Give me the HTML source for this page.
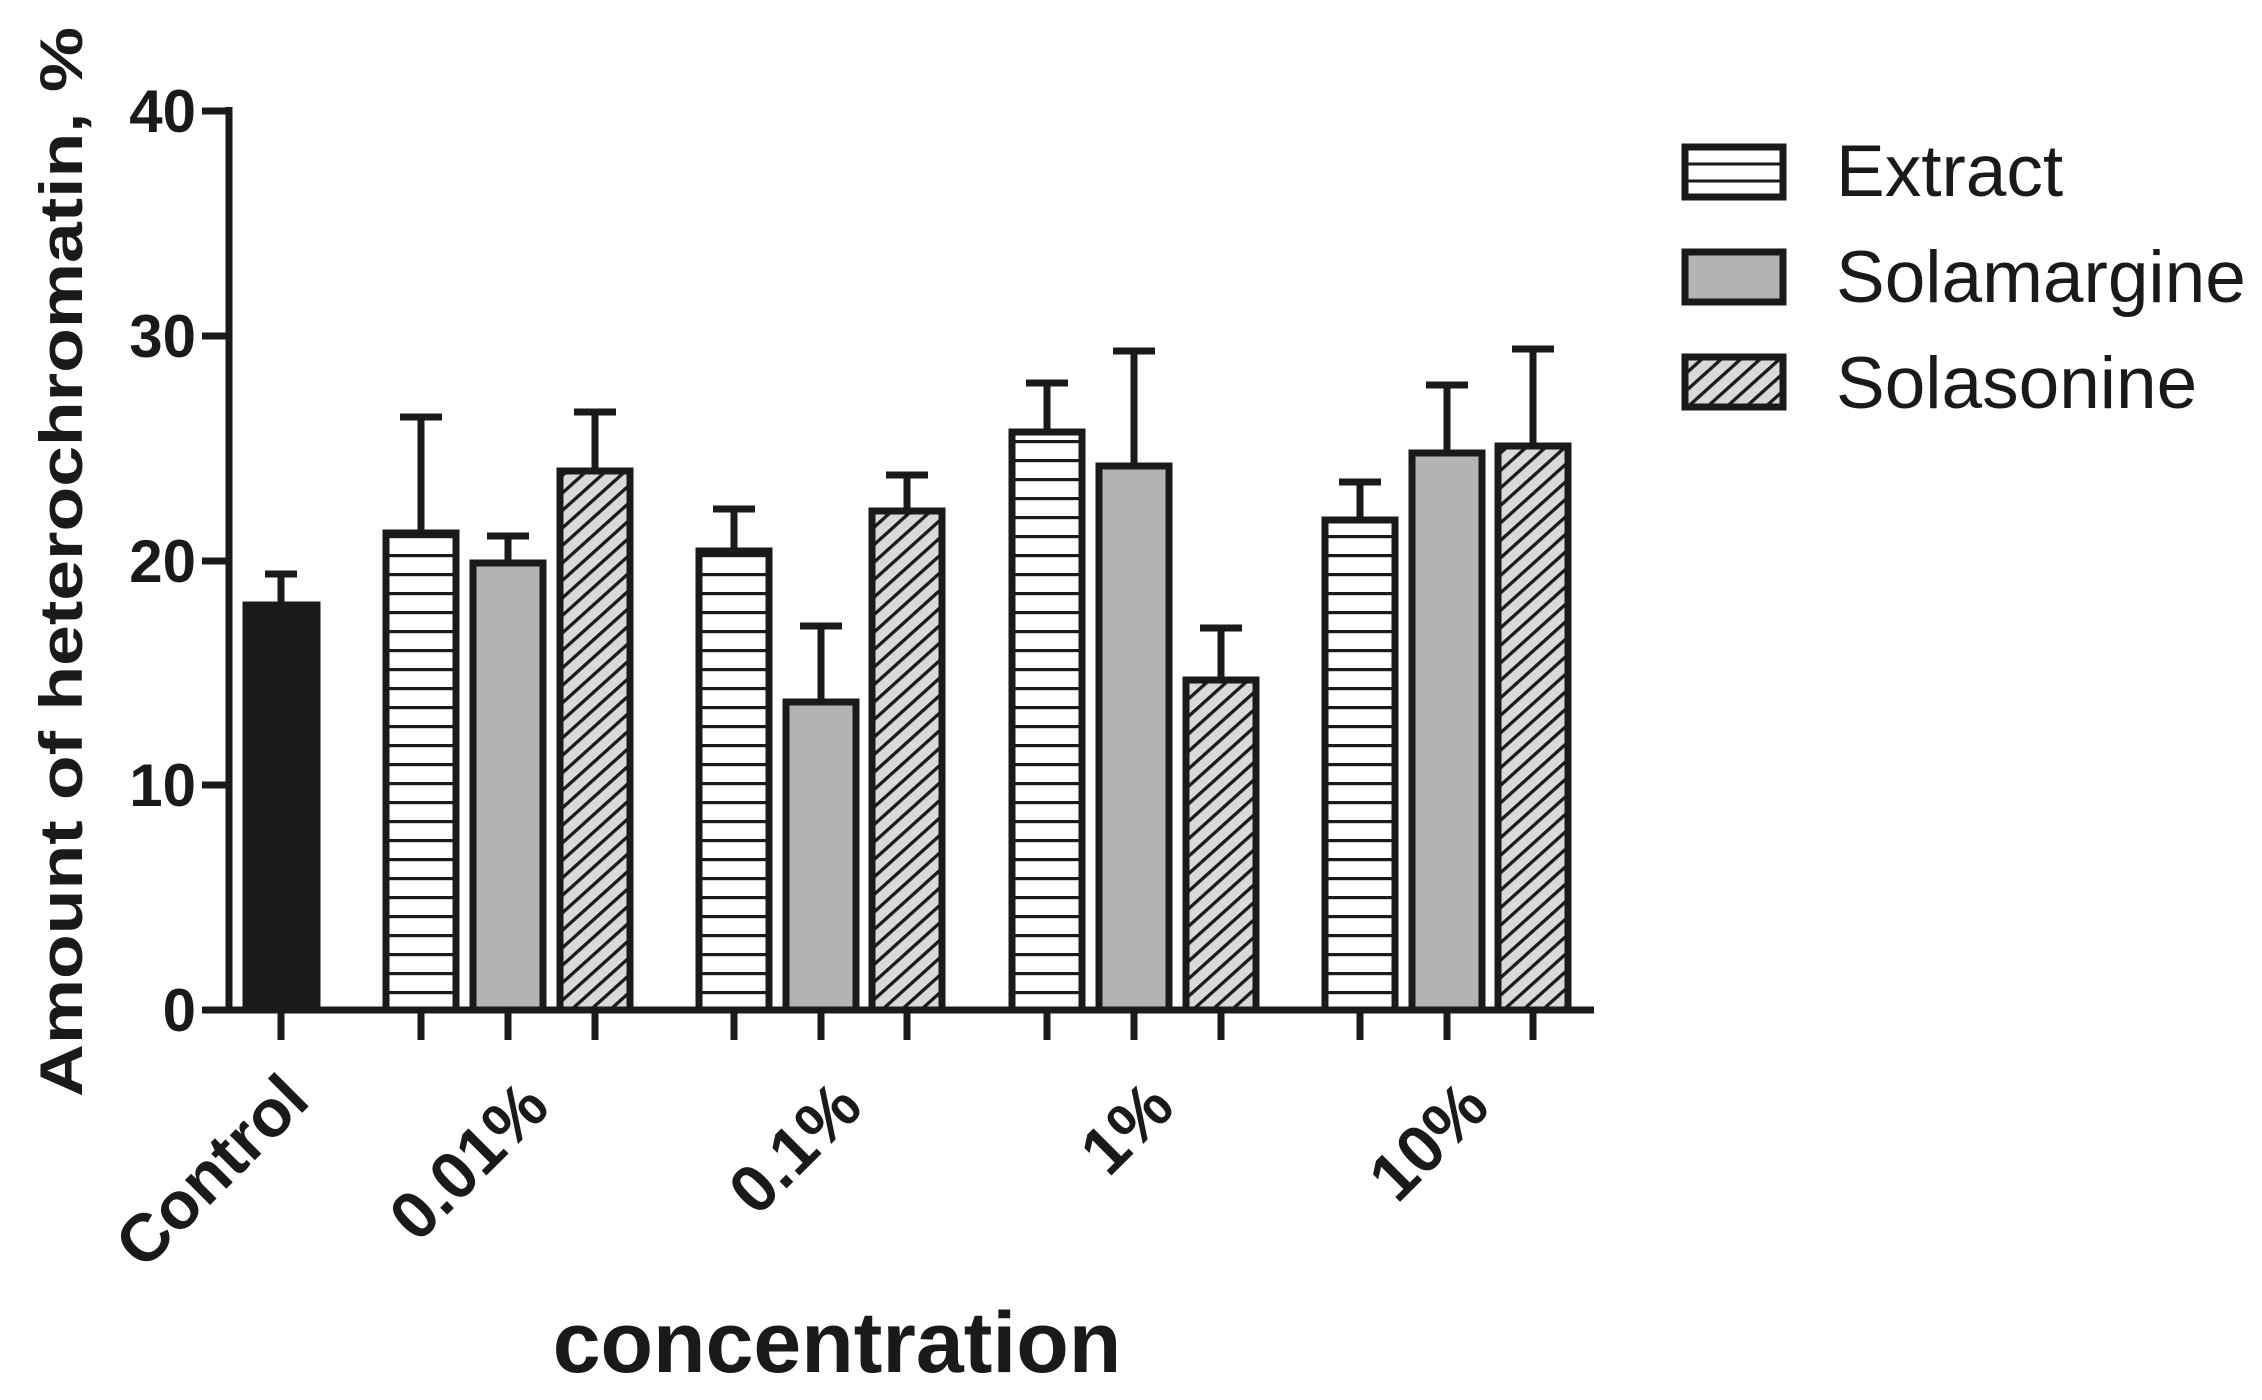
<!DOCTYPE html>
<html><head><meta charset="utf-8"><style>
html,body{margin:0;padding:0;background:#fff;}
svg{display:block;}
text{font-family:"Liberation Sans",Arial,sans-serif;fill:#1a1a1a;}
</style></head><body>
<svg width="2262" height="1400" viewBox="0 0 2262 1400" xmlns="http://www.w3.org/2000/svg">
<defs>
<pattern id="hz" patternUnits="userSpaceOnUse" width="20" height="19" y="1010">
<rect width="20" height="19" fill="#fff"/>
<rect y="0" width="20" height="3.2" fill="#1a1a1a"/>
</pattern>
<pattern id="dg" patternUnits="userSpaceOnUse" width="13" height="13" patternTransform="rotate(-42)">
<rect width="13" height="13" fill="#d9d9d9"/>
<rect y="0" width="13" height="3.3" fill="#1a1a1a"/>
</pattern>
</defs>
<g stroke="#1a1a1a" stroke-width="7" stroke-linecap="butt">
<line x1="229" y1="107" x2="229" y2="1013"/>
<line x1="226" y1="1010" x2="1594" y2="1010"/>
<line x1="202" y1="111" x2="229" y2="111"/>
<line x1="202" y1="336" x2="229" y2="336"/>
<line x1="202" y1="561" x2="229" y2="561"/>
<line x1="202" y1="785" x2="229" y2="785"/>
<line x1="202" y1="1010" x2="229" y2="1010"/>
<g>
<line x1="281" y1="1010" x2="281" y2="1040"/>
<line x1="421" y1="1010" x2="421" y2="1040"/>
<line x1="508" y1="1010" x2="508" y2="1040"/>
<line x1="595" y1="1010" x2="595" y2="1040"/>
<line x1="734" y1="1010" x2="734" y2="1040"/>
<line x1="821" y1="1010" x2="821" y2="1040"/>
<line x1="907" y1="1010" x2="907" y2="1040"/>
<line x1="1047" y1="1010" x2="1047" y2="1040"/>
<line x1="1134" y1="1010" x2="1134" y2="1040"/>
<line x1="1221" y1="1010" x2="1221" y2="1040"/>
<line x1="1360" y1="1010" x2="1360" y2="1040"/>
<line x1="1447" y1="1010" x2="1447" y2="1040"/>
<line x1="1533" y1="1010" x2="1533" y2="1040"/>
</g>
<g>
<line x1="281" y1="605" x2="281" y2="574"/><line x1="265" y1="574" x2="297" y2="574"/>
<line x1="421" y1="533" x2="421" y2="417"/><line x1="400" y1="417" x2="442" y2="417"/>
<line x1="508" y1="563" x2="508" y2="536"/><line x1="487" y1="536" x2="529" y2="536"/>
<line x1="595" y1="471" x2="595" y2="412"/><line x1="574" y1="412" x2="616" y2="412"/>
<line x1="734" y1="551" x2="734" y2="509"/><line x1="713" y1="509" x2="755" y2="509"/>
<line x1="821" y1="702" x2="821" y2="626"/><line x1="800" y1="626" x2="842" y2="626"/>
<line x1="907" y1="511" x2="907" y2="475"/><line x1="886" y1="475" x2="928" y2="475"/>
<line x1="1047" y1="432" x2="1047" y2="383"/><line x1="1026" y1="383" x2="1068" y2="383"/>
<line x1="1134" y1="466" x2="1134" y2="351"/><line x1="1113" y1="351" x2="1155" y2="351"/>
<line x1="1221" y1="680" x2="1221" y2="628"/><line x1="1200" y1="628" x2="1242" y2="628"/>
<line x1="1360" y1="520" x2="1360" y2="482"/><line x1="1339" y1="482" x2="1381" y2="482"/>
<line x1="1447" y1="453" x2="1447" y2="385"/><line x1="1426" y1="385" x2="1468" y2="385"/>
<line x1="1533" y1="446" x2="1533" y2="349"/><line x1="1512" y1="349" x2="1554" y2="349"/>
</g>
<rect x="246" y="605" width="71" height="405" fill="#1a1a1a"/>
<rect x="386" y="533" width="70" height="477" fill="url(#hz)"/>
<rect x="473" y="563" width="70" height="447" fill="#b3b3b3"/>
<rect x="560" y="471" width="70" height="539" fill="url(#dg)"/>
<rect x="699" y="551" width="70" height="459" fill="url(#hz)"/>
<rect x="786" y="702" width="70" height="308" fill="#b3b3b3"/>
<rect x="872" y="511" width="70" height="499" fill="url(#dg)"/>
<rect x="1012" y="432" width="70" height="578" fill="url(#hz)"/>
<rect x="1099" y="466" width="70" height="544" fill="#b3b3b3"/>
<rect x="1186" y="680" width="70" height="330" fill="url(#dg)"/>
<rect x="1325" y="520" width="70" height="490" fill="url(#hz)"/>
<rect x="1412" y="453" width="70" height="557" fill="#b3b3b3"/>
<rect x="1498" y="446" width="70" height="564" fill="url(#dg)"/>
<rect x="1685" y="147" width="98" height="50" fill="#fff"/>
<line x1="1685" y1="164" x2="1783" y2="164" stroke-width="3"/>
<line x1="1685" y1="181" x2="1783" y2="181" stroke-width="3"/>
<rect x="1685" y="252" width="98" height="50" fill="#b3b3b3"/>
<rect x="1685" y="357" width="98" height="50" fill="url(#dg)"/>
</g>
<g font-size="60" font-weight="bold" text-anchor="end">
<text x="196" y="132">40</text>
<text x="196" y="357">30</text>
<text x="196" y="582">20</text>
<text x="196" y="806">10</text>
<text x="196" y="1031">0</text>
</g>
<text transform="translate(82,562) rotate(-90)" font-size="60" font-weight="bold" text-anchor="middle" textLength="1070" lengthAdjust="spacingAndGlyphs">Amount of heterochromatin, %</text>
<g font-size="67" font-weight="bold" text-anchor="end">
<text transform="translate(312,1103) rotate(-45)">Control</text>
<text transform="translate(552,1110) rotate(-45)">0.01%</text>
<text transform="translate(865,1110) rotate(-45)">0.1%</text>
<text transform="translate(1177,1110) rotate(-45)">1%</text>
<text transform="translate(1492,1110) rotate(-45)">10%</text>
</g>
<text x="837" y="1372" font-size="86" font-weight="bold" text-anchor="middle">concentration</text>
<g font-size="73">
<text x="1836" y="196">Extract</text>
<text x="1836" y="302">Solamargine</text>
<text x="1836" y="408">Solasonine</text>
</g>
</svg>
</body></html>
